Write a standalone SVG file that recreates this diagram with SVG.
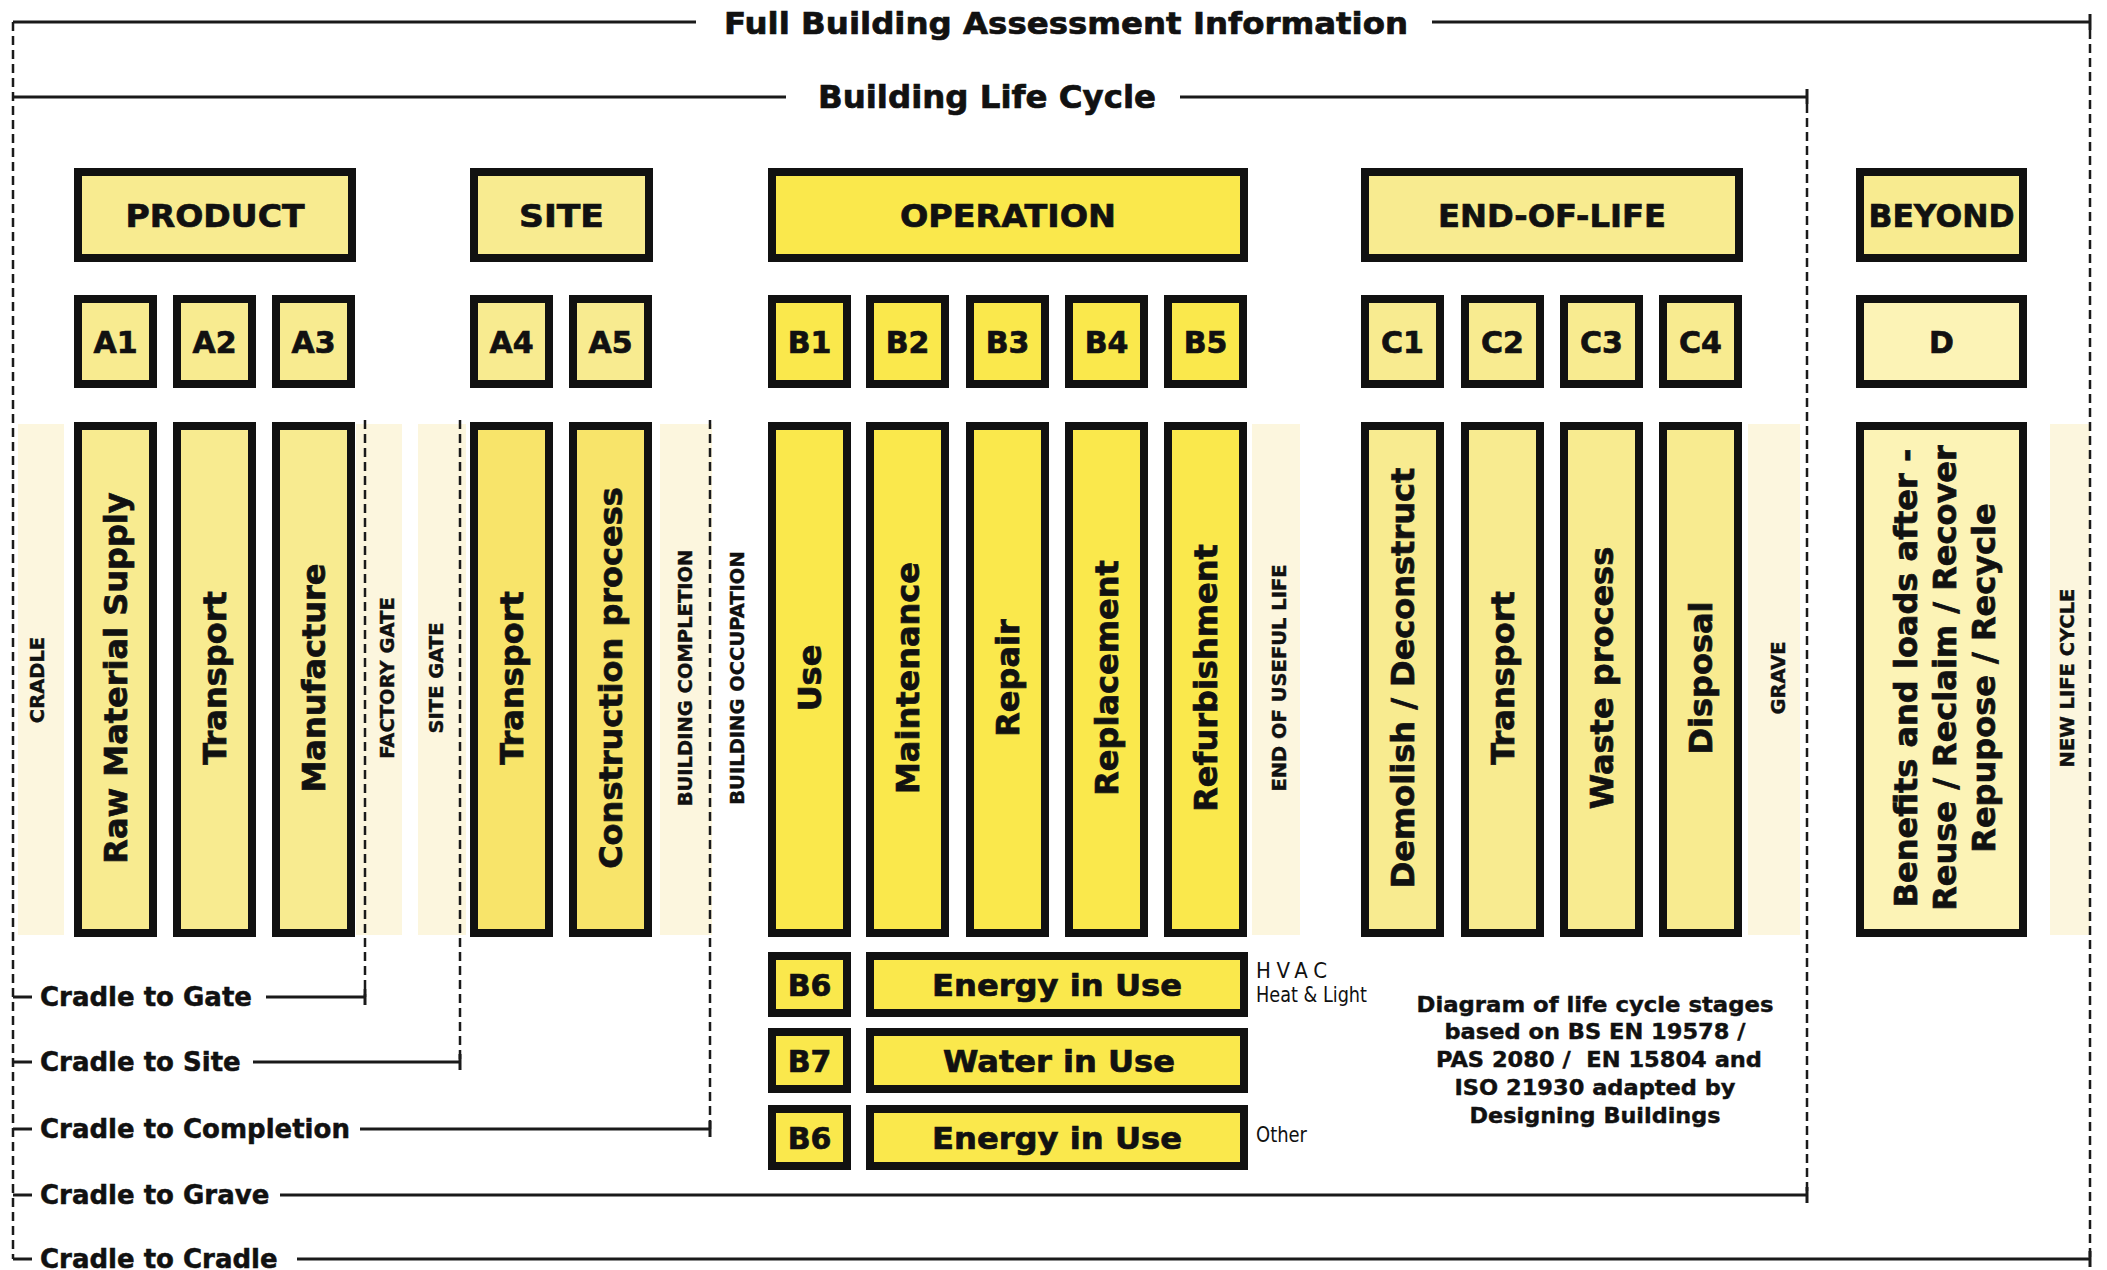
<svg xmlns="http://www.w3.org/2000/svg" width="2107" height="1270" viewBox="0 0 2107 1270">
<style>
.bx{stroke:#111;stroke-width:8}
.pale{fill:#F8EB90}
.bright{fill:#FAE84C}
.mid{fill:#F8E46A}
.light{fill:#FCF3B6}
.band{fill:#FCF6DE}
.t{font-family:"DejaVu Sans","Liberation Sans",Arial,sans-serif;font-weight:bold;fill:#111;text-anchor:middle;stroke:#111;stroke-width:0.7}
.h{font-size:32px}
.c{font-size:30px}
.v{font-size:32px}
.s{font-size:19.5px;stroke-width:0.4}
.lab{font-size:26px;text-anchor:start;stroke-width:0.5}
.nt{font-size:21px;stroke-width:0.4}
.n{font-family:"DejaVu Sans Condensed","Liberation Sans Narrow","Liberation Sans",sans-serif;font-size:22px;fill:#111}
.ln{stroke:#1a1a1a;stroke-width:3;fill:none}
.dash{stroke:#1a1a1a;stroke-width:2.5;stroke-dasharray:9 5;fill:none}
</style>
<rect width="2107" height="1270" fill="#fff"/>

<g id="bands">
<rect class="band" x="18" y="424" width="46" height="511"/>
<rect class="band" x="356" y="424" width="46" height="511"/>
<rect class="band" x="418" y="424" width="48" height="511"/>
<rect class="band" x="660" y="424" width="52" height="511"/>
<rect class="band" x="1252" y="424" width="48" height="511"/>
<rect class="band" x="1748" y="424" width="52" height="511"/>
<rect class="band" x="2050" y="424" width="40" height="511"/>
</g>

<g id="connectors">
<line class="ln" x1="13" y1="22" x2="696" y2="22"/>
<line class="ln" x1="1432" y1="22" x2="2090" y2="22"/>
<line class="ln" x1="2090" y1="14" x2="2090" y2="30"/>
<line class="dash" x1="13" y1="22" x2="13" y2="1259"/>
<line class="dash" x1="2090" y1="30" x2="2090" y2="1259"/>
<line class="ln" x1="13" y1="97" x2="786" y2="97"/>
<line class="ln" x1="1180" y1="97" x2="1807" y2="97"/>
<line class="ln" x1="1807" y1="89" x2="1807" y2="104"/>
<line class="dash" x1="1807" y1="104" x2="1807" y2="1195"/>
<line class="dash" x1="365" y1="420" x2="365" y2="997"/>
<line class="dash" x1="460" y1="420" x2="460" y2="1062"/>
<line class="dash" x1="710" y1="420" x2="710" y2="1129"/>
<line class="ln" x1="13" y1="997" x2="32" y2="997"/>
<line class="ln" x1="266" y1="997" x2="365" y2="997"/>
<line class="ln" x1="365" y1="989" x2="365" y2="1005"/>
<line class="ln" x1="13" y1="1062" x2="32" y2="1062"/>
<line class="ln" x1="253" y1="1062" x2="460" y2="1062"/>
<line class="ln" x1="460" y1="1054" x2="460" y2="1070"/>
<line class="ln" x1="13" y1="1129" x2="32" y2="1129"/>
<line class="ln" x1="360" y1="1129" x2="710" y2="1129"/>
<line class="ln" x1="710" y1="1121" x2="710" y2="1137"/>
<line class="ln" x1="13" y1="1195" x2="32" y2="1195"/>
<line class="ln" x1="280" y1="1195" x2="1807" y2="1195"/>
<line class="ln" x1="1807" y1="1187" x2="1807" y2="1203"/>
<line class="ln" x1="13" y1="1259" x2="32" y2="1259"/>
<line class="ln" x1="297" y1="1259" x2="2090" y2="1259"/>
<line class="ln" x1="2090" y1="1251" x2="2090" y2="1267"/>
</g>

<g id="titles">
<text class="t" x="1066" y="34" font-size="31" textLength="684" lengthAdjust="spacingAndGlyphs">Full Building Assessment Information</text>
<text class="t" x="987" y="108" font-size="32" textLength="338" lengthAdjust="spacingAndGlyphs">Building Life Cycle</text>
</g>

<g id="headers">
<g id="product"><rect class="bx pale" x="78" y="172" width="274" height="86"/><text class="t h" x="215" y="227" textLength="179" lengthAdjust="spacingAndGlyphs">PRODUCT</text></g>
<g id="site"><rect class="bx pale" x="474" y="172" width="175" height="86"/><text class="t h" x="561.5" y="227" textLength="85" lengthAdjust="spacingAndGlyphs">SITE</text></g>
<g id="operation"><rect class="bx bright" x="772" y="172" width="472" height="86"/><text class="t h" x="1008" y="227" textLength="216" lengthAdjust="spacingAndGlyphs">OPERATION</text></g>
<g id="endoflife"><rect class="bx pale" x="1365" y="172" width="374" height="86"/><text class="t h" x="1552" y="227" textLength="228" lengthAdjust="spacingAndGlyphs">END-OF-LIFE</text></g>
<g id="beyond"><rect class="bx pale" x="1860" y="172" width="163" height="86"/><text class="t h" x="1941.5" y="227" textLength="146" lengthAdjust="spacingAndGlyphs">BEYOND</text></g>
</g>

<g id="codes">
<g id="a1"><rect class="bx pale" x="78" y="299" width="75" height="85"/><text class="t c" x="115.5" y="352.5">A1</text></g>
<g id="a2"><rect class="bx pale" x="177" y="299" width="75" height="85"/><text class="t c" x="214.5" y="352.5">A2</text></g>
<g id="a3"><rect class="bx pale" x="276" y="299" width="75" height="85"/><text class="t c" x="313.5" y="352.5">A3</text></g>
<g id="a4"><rect class="bx pale" x="474" y="299" width="75" height="85"/><text class="t c" x="511.5" y="352.5">A4</text></g>
<g id="a5"><rect class="bx pale" x="573" y="299" width="75" height="85"/><text class="t c" x="610.5" y="352.5">A5</text></g>
<g id="b1"><rect class="bx bright" x="772" y="299" width="75" height="85"/><text class="t c" x="809.5" y="352.5">B1</text></g>
<g id="b2"><rect class="bx bright" x="870" y="299" width="75" height="85"/><text class="t c" x="907.5" y="352.5">B2</text></g>
<g id="b3"><rect class="bx bright" x="970" y="299" width="75" height="85"/><text class="t c" x="1007.5" y="352.5">B3</text></g>
<g id="b4"><rect class="bx bright" x="1069" y="299" width="75" height="85"/><text class="t c" x="1106.5" y="352.5">B4</text></g>
<g id="b5"><rect class="bx bright" x="1168" y="299" width="75" height="85"/><text class="t c" x="1205.5" y="352.5">B5</text></g>
<g id="c1"><rect class="bx pale" x="1365" y="299" width="75" height="85"/><text class="t c" x="1402.5" y="352.5">C1</text></g>
<g id="c2"><rect class="bx pale" x="1465" y="299" width="75" height="85"/><text class="t c" x="1502.5" y="352.5">C2</text></g>
<g id="c3"><rect class="bx pale" x="1564" y="299" width="75" height="85"/><text class="t c" x="1601.5" y="352.5">C3</text></g>
<g id="c4"><rect class="bx pale" x="1663" y="299" width="75" height="85"/><text class="t c" x="1700.5" y="352.5">C4</text></g>
<g id="d"><rect class="bx light" x="1860" y="299" width="163" height="85"/><text class="t c" x="1941.5" y="352.5">D</text></g>
</g>

<g id="stages">
<g id="a1-stage"><rect class="bx pale" x="78" y="426" width="75" height="507"/><text class="t v" transform="translate(115.5,678) rotate(-90)" y="11.7">Raw Material Supply</text></g>
<g id="a2-stage"><rect class="bx pale" x="177" y="426" width="75" height="507"/><text class="t v" transform="translate(214.5,678) rotate(-90)" y="11.7">Transport</text></g>
<g id="a3-stage"><rect class="bx pale" x="276" y="426" width="75" height="507"/><text class="t v" transform="translate(313.5,678) rotate(-90)" y="11.7">Manufacture</text></g>
<g id="a4-stage"><rect class="bx mid" x="474" y="426" width="75" height="507"/><text class="t v" transform="translate(511.5,678) rotate(-90)" y="11.7">Transport</text></g>
<g id="a5-stage"><rect class="bx mid" x="573" y="426" width="75" height="507"/><text class="t v" transform="translate(610.5,678) rotate(-90)" y="11.7">Construction process</text></g>
<g id="b1-stage"><rect class="bx bright" x="772" y="426" width="75" height="507"/><text class="t v" transform="translate(809.5,678) rotate(-90)" y="11.7">Use</text></g>
<g id="b2-stage"><rect class="bx bright" x="870" y="426" width="75" height="507"/><text class="t v" transform="translate(907.5,678) rotate(-90)" y="11.7">Maintenance</text></g>
<g id="b3-stage"><rect class="bx bright" x="970" y="426" width="75" height="507"/><text class="t v" transform="translate(1007.5,678) rotate(-90)" y="11.7">Repair</text></g>
<g id="b4-stage"><rect class="bx bright" x="1069" y="426" width="75" height="507"/><text class="t v" transform="translate(1106.5,678) rotate(-90)" y="11.7">Replacement</text></g>
<g id="b5-stage"><rect class="bx bright" x="1168" y="426" width="75" height="507"/><text class="t v" transform="translate(1205.5,678) rotate(-90)" y="11.7">Refurbishment</text></g>
<g id="c1-stage"><rect class="bx pale" x="1365" y="426" width="75" height="507"/><text class="t v" transform="translate(1402.5,678) rotate(-90)" y="11.7">Demolish / Deconstruct</text></g>
<g id="c2-stage"><rect class="bx pale" x="1465" y="426" width="75" height="507"/><text class="t v" transform="translate(1502.5,678) rotate(-90)" y="11.7">Transport</text></g>
<g id="c3-stage"><rect class="bx pale" x="1564" y="426" width="75" height="507"/><text class="t v" transform="translate(1601.5,678) rotate(-90)" y="11.7">Waste process</text></g>
<g id="c4-stage"><rect class="bx pale" x="1663" y="426" width="75" height="507"/><text class="t v" transform="translate(1700.5,678) rotate(-90)" y="11.7">Disposal</text></g>
<g id="d-stage"><rect class="bx light" x="1860" y="426" width="163" height="507"/>
<text class="t v" transform="translate(1905,678) rotate(-90)" y="11.7">Benefits and loads after -</text>
<text class="t v" transform="translate(1944,678) rotate(-90)" y="11.7">Reuse / Reclaim / Recover</text>
<text class="t v" transform="translate(1983,678) rotate(-90)" y="11.7">Repupose / Recycle</text>
</g>
</g>

<g id="milestones">
<text class="t s" transform="translate(37,680) rotate(-90)" y="7">CRADLE</text>
<text class="t s" transform="translate(387,678) rotate(-90)" y="7">FACTORY GATE</text>
<text class="t s" transform="translate(436,678) rotate(-90)" y="7">SITE GATE</text>
<text class="t s" transform="translate(685,678) rotate(-90)" y="7">BUILDING COMPLETION</text>
<text class="t s" transform="translate(737,678) rotate(-90)" y="7">BUILDING OCCUPATION</text>
<text class="t s" transform="translate(1279,678) rotate(-90)" y="7">END OF USEFUL LIFE</text>
<text class="t s" transform="translate(1778,678) rotate(-90)" y="7">GRAVE</text>
<text class="t s" transform="translate(2067,678) rotate(-90)" y="7">NEW LIFE CYCLE</text>
</g>

<g id="in-use">
<g id="b6-energy"><rect class="bx bright" x="772" y="956" width="75" height="57"/><text class="t c" x="809.5" y="995.5">B6</text>
<rect class="bx bright" x="870" y="956" width="374" height="57"/><text class="t c" x="1057" y="995.5" textLength="250" lengthAdjust="spacingAndGlyphs">Energy in Use</text></g>
<g id="b7-water"><rect class="bx bright" x="772" y="1032" width="75" height="57"/><text class="t c" x="809.5" y="1071.5">B7</text>
<rect class="bx bright" x="870" y="1032" width="374" height="57"/><text class="t c" x="1059" y="1071.5" textLength="232" lengthAdjust="spacingAndGlyphs">Water in Use</text></g>
<g id="b6-other"><rect class="bx bright" x="772" y="1109" width="75" height="57"/><text class="t c" x="809.5" y="1148.5">B6</text>
<rect class="bx bright" x="870" y="1109" width="374" height="57"/><text class="t c" x="1057" y="1148.5" textLength="250" lengthAdjust="spacingAndGlyphs">Energy in Use</text></g>
<text class="n" x="1256" y="978" textLength="71" lengthAdjust="spacing">HVAC</text>
<text class="n" x="1256" y="1002" textLength="111" lengthAdjust="spacingAndGlyphs">Heat &amp; Light</text>
<text class="n" x="1256" y="1142" textLength="51" lengthAdjust="spacingAndGlyphs">Other</text>
</g>

<g id="scopes">
<text class="t lab" x="40" y="1006">Cradle to Gate</text>
<text class="t lab" x="40" y="1071">Cradle to Site</text>
<text class="t lab" x="40" y="1138">Cradle to Completion</text>
<text class="t lab" x="40" y="1204">Cradle to Grave</text>
<text class="t lab" x="40" y="1268">Cradle to Cradle</text>
</g>

<g id="note">
<text class="t nt" x="1595" y="1012" textLength="357" lengthAdjust="spacingAndGlyphs">Diagram of life cycle stages</text>
<text class="t nt" x="1595" y="1039" textLength="301" lengthAdjust="spacingAndGlyphs">based on BS EN 19578 /</text>
<text class="t nt" x="1599" y="1067" textLength="326" lengthAdjust="spacingAndGlyphs">PAS 2080 /&#160; EN 15804 and</text>
<text class="t nt" x="1595" y="1095" textLength="281" lengthAdjust="spacingAndGlyphs">ISO 21930 adapted by</text>
<text class="t nt" x="1595" y="1123" textLength="251" lengthAdjust="spacingAndGlyphs">Designing Buildings</text>
</g>
</svg>
